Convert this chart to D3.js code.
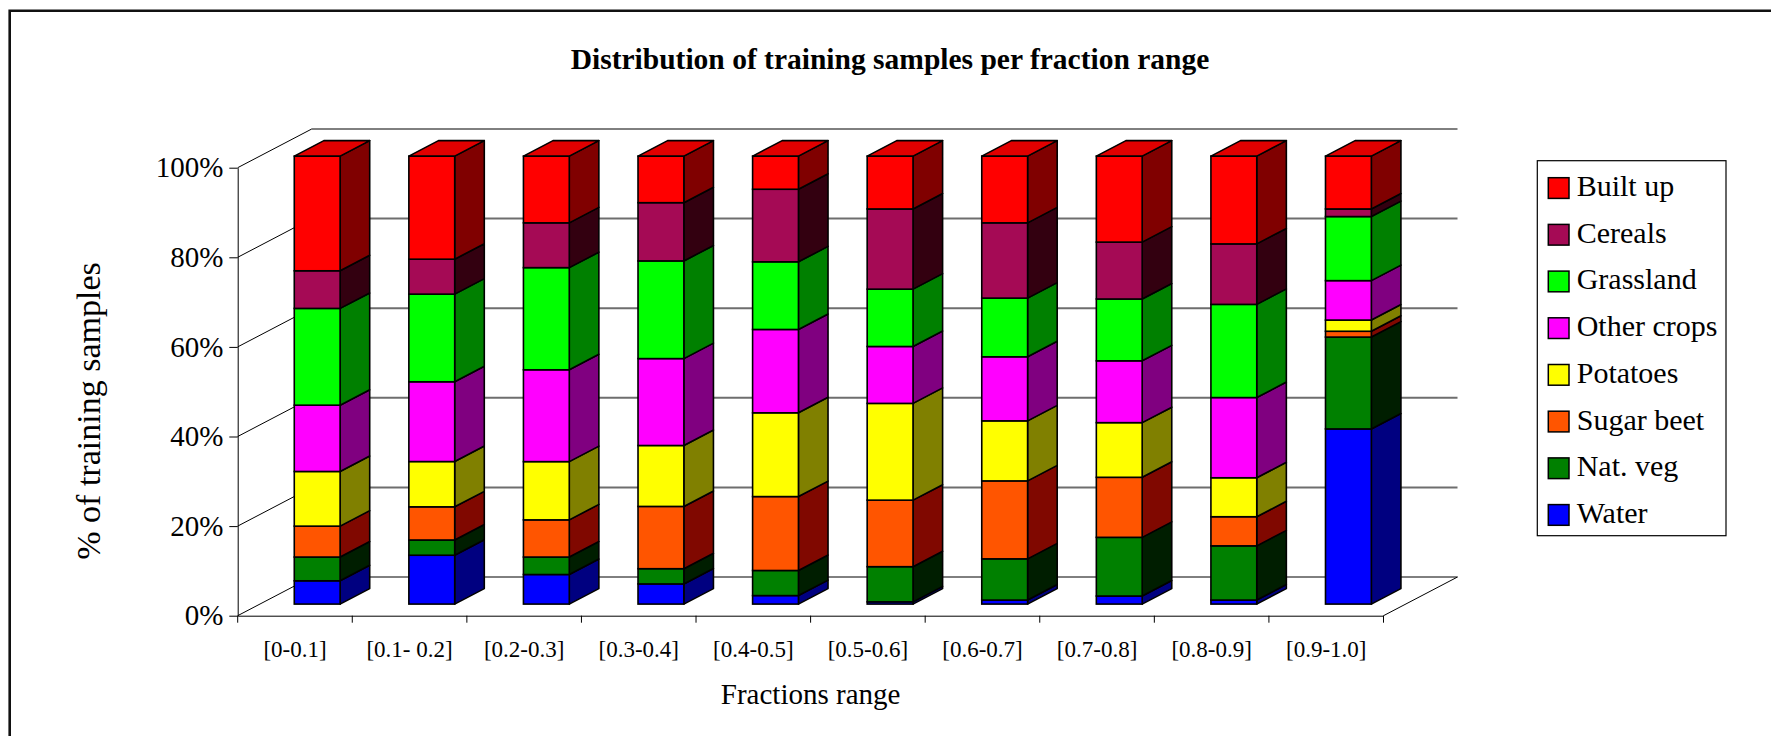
<!DOCTYPE html>
<meta charset="utf-8">
<head>
<style>
html, body{margin:0px; padding:0px; background:white;}
text {font-family: "Liberation Serif", "Times New Roman", serif; fill: black;}
</style>
</head>
<script src="https://d3js.org/d3.v7.min.js"></script>
<div id="my_dataviz"></div>
<script>

// categories and series (percent of training samples, bottom to top)
var cats = ["[0-0.1]","[0.1- 0.2]","[0.2-0.3]","[0.3-0.4]","[0.4-0.5]","[0.5-0.6]","[0.6-0.7]","[0.7-0.8]","[0.8-0.9]","[0.9-1.0]"]
var water     = [5.2, 10.9, 6.6, 4.5, 1.9, 0.5, 0.9, 1.8, 0.9, 39.1]
var natVeg    = [5.3, 3.4, 3.9, 3.4, 5.6, 7.85, 9.2, 13.1, 12.1, 20.5]
var sugarBeet = [6.9, 7.4, 8.3, 13.9, 16.5, 14.85, 17.4, 13.4, 6.5, 1.3]
var potatoes  = [12.2, 10.1, 13.0, 13.6, 18.7, 21.6, 13.4, 12.2, 8.7, 2.5]
var otherCrops= [14.8, 17.8, 20.5, 19.4, 18.6, 12.7, 14.3, 13.8, 17.9, 8.8]
var grassland = [21.6, 19.55, 22.8, 21.8, 15.1, 12.8, 13.1, 13.8, 20.8, 14.3]
var cereals   = [8.4, 7.8, 10.0, 13.0, 16.2, 17.9, 16.8, 12.7, 13.5, 1.7]
var builtUp   = [25.6, 23.0, 14.9, 10.4, 7.4, 11.8, 14.9, 19.2, 19.6, 11.8]

var seriesNames = ["Water","Nat. veg","Sugar beet","Potatoes","Other crops","Grassland","Cereals","Built up"]
var seriesVals = [water, natVeg, sugarBeet, potatoes, otherCrops, grassland, cereals, builtUp]
var frontColors = ["#0000FF","#008000","#FF5500","#FFFF00","#FF00FF","#00FF00","#A50A55","#FF0000"]
var sideColors  = ["#000080","#001E00","#800800","#808000","#800080","#008000","#330010","#800000"]
var yTicks = [0, 0.2, 0.4, 0.6, 0.8, 1]

// build table for the stack
var table = cats.map(function(c, i) {
  var row = {cat: c}
  seriesNames.forEach(function(s, j) { row[s] = seriesVals[j][i] })
  return row
})
var stacked = d3.stack().keys(seriesNames).offset(d3.stackOffsetExpand)(table)

var W = 1771, H = 736
var svg = d3.select("#my_dataviz").append("svg")
  .attr("width", W).attr("height", H)
  .style("display", "block")

svg.append("rect").attr("width", W).attr("height", H).attr("fill", "white")

// outer frame (runs off right/bottom)
svg.append("path")
  .attr("d", "M9.7," + H + "V10.7H" + W)
  .attr("fill", "none").attr("stroke", "#111").attr("stroke-width", 2.6)

// 3d depth
var DX = 74, DY = -38.7
var x = d3.scaleBand().domain(cats).range([237.7, 1383.5]).padding(0)
var y = d3.scaleLinear().domain([0, 1]).range([615.7, 167.7])
var xl = x.range()[0], xr = x.range()[1]

// back wall gridlines
svg.append("g").selectAll("line")
  .data(yTicks).enter().append("line")
    .attr("x1", xl + DX).attr("x2", xr + DX)
    .attr("y1", function(d) { return y(d) + DY }).attr("y2", function(d) { return y(d) + DY })
    .attr("stroke", function(d) { return (d == 0 || d == 1) ? "#000" : "#6e6e6e" })
    .attr("stroke-width", function(d) { return (d == 0 || d == 1) ? 1 : 2 })

// side wall diagonals
svg.append("g").selectAll("line")
  .data(yTicks).enter().append("line")
    .attr("x1", xl).attr("x2", xl + DX)
    .attr("y1", function(d) { return y(d) }).attr("y2", function(d) { return y(d) + DY })
    .attr("stroke", "#000").attr("stroke-width", 1)

// right floor edge
svg.append("line")
  .attr("x1", xr).attr("y1", y(0)).attr("x2", xr + DX).attr("y2", y(0) + DY)
  .attr("stroke", "#000").attr("stroke-width", 1)

// axes
var yAxis = svg.append("g")
  .attr("transform", "translate(" + xl + ",0)")
  .call(d3.axisLeft(y).tickValues(yTicks).tickFormat(d3.format(".0%")).tickSize(8.4).tickSizeOuter(0).tickPadding(6))
yAxis.selectAll("text").style("font-size", "29px").attr("font-family", null)
yAxis.selectAll("line, path").attr("stroke", "#000")

var xAxis = svg.append("g")
  .attr("transform", "translate(0," + y(0) + ")")
  .call(d3.axisBottom(x).tickSize(0).tickSizeOuter(0).tickPadding(25))
xAxis.selectAll("text").style("font-size", "23px").attr("font-family", null)
xAxis.select(".domain").attr("stroke", "#000")

// boundary ticks on x axis
svg.append("g").selectAll("line")
  .data(cats.concat(["end"])).enter().append("line")
    .attr("x1", function(d) { return d == "end" ? xr : x(d) })
    .attr("x2", function(d) { return d == "end" ? xr : x(d) })
    .attr("y1", y(0)).attr("y2", y(0) + 7)
    .attr("stroke", "#000").attr("stroke-width", 1)

// bars
var bw = x.bandwidth() * 0.4
var fdx = DX * 0.3, fdy = DY * 0.3, bdx = DX * 0.4, bdy = DY * 0.4
var barG = svg.append("g")
stacked.forEach(function(layer, li) {
  layer.forEach(function(d, ci) {
    var fx = x(cats[ci]) + (x.bandwidth() - bw) / 2 + fdx
    var yb = y(d[0]) + fdy, yt = y(d[1]) + fdy
    if (yb - yt <= 0) return
    // side face
    barG.append("path")
      .attr("d", "M" + (fx + bw) + "," + yb + "L" + (fx + bw + bdx) + "," + (yb + bdy) +
                 "L" + (fx + bw + bdx) + "," + (yt + bdy) + "L" + (fx + bw) + "," + yt + "Z")
      .attr("fill", sideColors[li]).attr("stroke", "#000").attr("stroke-width", 1.6).attr("stroke-linejoin", "round")
    // front face
    barG.append("rect")
      .attr("x", fx).attr("y", yt).attr("width", bw).attr("height", yb - yt)
      .attr("fill", frontColors[li]).attr("stroke", "#000").attr("stroke-width", 1.6)
    // top face on the last segment
    if (li == stacked.length - 1) {
      barG.append("path")
        .attr("d", "M" + fx + "," + yt + "L" + (fx + bw) + "," + yt + "L" + (fx + bw + bdx) + "," + (yt + bdy) +
                   "L" + (fx + bdx) + "," + (yt + bdy) + "Z")
        .attr("fill", d3.color(frontColors[li]).darker(0.35)).attr("stroke", "#000").attr("stroke-width", 1.6).attr("stroke-linejoin", "round")
    }
  })
})

// title
svg.append("text")
  .attr("x", 890).attr("y", 69)
  .attr("text-anchor", "middle")
  .style("font-size", "29.5px").style("font-weight", "bold")
  .text("Distribution of training samples per fraction range")

// axis titles
svg.append("text")
  .attr("x", (xl + xr) / 2).attr("y", 704)
  .attr("text-anchor", "middle")
  .style("font-size", "29px")
  .text("Fractions range")

svg.append("text")
  .attr("transform", "translate(100,411) rotate(-90)")
  .attr("text-anchor", "middle")
  .style("font-size", "34px")
  .text("% of training samples")

// legend
var legend = svg.append("g").attr("transform", "translate(1537.3,160.7)")
legend.append("rect")
  .attr("width", 188.7).attr("height", 375)
  .attr("fill", "white").attr("stroke", "#000").attr("stroke-width", 1.2)
var legOrder = seriesNames.slice().reverse()
var items = legend.selectAll("g.item")
  .data(legOrder).enter().append("g")
    .attr("transform", function(d, i) { return "translate(11," + (17 + i * 46.7) + ")" })
items.append("rect")
  .attr("width", 20.7).attr("height", 20.7)
  .attr("fill", function(d) { return frontColors[seriesNames.indexOf(d)] })
  .attr("stroke", "#000").attr("stroke-width", 1.5)
items.append("text")
  .attr("x", 28.4).attr("y", 18.3)
  .style("font-size", "30px")
  .text(function(d) { return d })

</script>
</html>
